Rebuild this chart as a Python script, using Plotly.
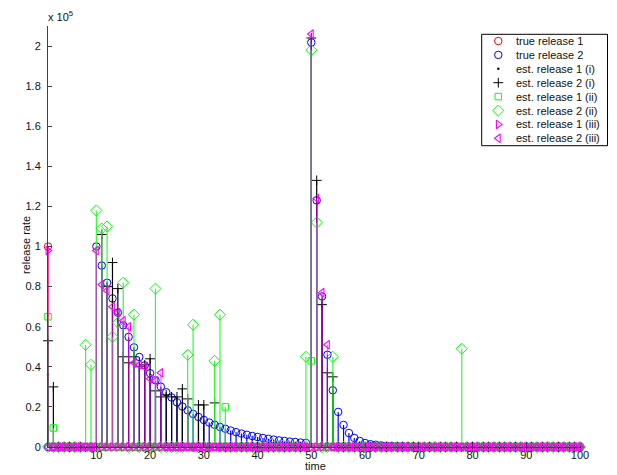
import plotly.graph_objects as go

# ---------------- data (values in units of 1e5) ----------------
SCALE = 1e5
time = list(range(1, 101))

true_rel1_t = [1]
true_rel1_v = [1.00]

true_rel2_t = list(range(10, 71))
true_rel2_v = [1.000, 0.905, 0.819, 0.741, 0.670, 0.607, 0.549, 0.497, 0.449, 0.407,
               0.368, 0.333, 0.301, 0.273, 0.247, 0.223, 0.202, 0.183, 0.165, 0.150,
               0.135, 0.122, 0.111, 0.100, 0.091, 0.082, 0.074, 0.067, 0.061, 0.055,
               0.050, 0.045, 0.041, 0.037, 0.033, 0.030, 0.027, 0.025, 0.022, 0.020,
               2.018, 1.230, 0.751, 0.460, 0.283, 0.175, 0.110, 0.070, 0.045, 0.030,
               0.020, 0.014, 0.011, 0.008, 0.006, 0.005, 0.004, 0.004, 0.003, 0.003, 0.0025]

est1_i_t = [1]
est1_i_v = [0.36]

est2_i_t = [1, 2, 11, 12, 13, 14, 15, 16, 17, 18, 19, 20, 21, 22, 23, 24, 25, 26, 27,
            29, 30, 32, 50, 51, 52, 53, 54]
est2_i_v = [0.53, 0.30, 1.06, 0.80, 0.92, 0.79, 0.45, 0.42, 0.45, 0.40, 0.41, 0.44, 0.28,
            0.25, 0.26, 0.25, 0.25, 0.29, 0.24, 0.21, 0.21, 0.22, 2.04, 1.33, 0.71, 0.37, 0.35]

est1_ii_t = [1, 2, 34, 50]
est1_ii_v = [0.65, 0.095, 0.20, 0.43]

est2_ii_t = [8, 9, 10, 11, 12, 13, 14, 15, 17, 21, 27, 28, 32, 33, 49, 50, 51, 54, 78]
est2_ii_v = [0.51, 0.41, 1.18, 1.09, 1.10, 0.55, 0.62, 0.82, 0.66, 0.79, 0.46, 0.61,
             0.43, 0.66, 0.45, 1.98, 1.12, 0.45, 0.49]

est1_iii_t = [1]
est1_iii_v = [0.98]

est2_iii_t = [10, 11, 12, 13, 14, 15, 16, 17, 18, 19, 20, 21, 22, 50, 51, 52, 53]
est2_iii_v = [0.98, 0.81, 0.78, 0.70, 0.67, 0.63, 0.60, 0.42, 0.41, 0.40, 0.34, 0.33,
              0.37, 2.06, 1.24, 0.77, 0.51]

y_tick_vals = [0, 0.2, 0.4, 0.6, 0.8, 1.0, 1.2, 1.4, 1.6, 1.8, 2.0]
y_tick_text = ["0", "0.2", "0.4", "0.6", "0.8", "1", "1.2", "1.4", "1.6", "1.8", "2"]
x_tick_vals = [10, 20, 30, 40, 50, 60, 70, 80, 90, 100]


def full(ts, vs):
    d = dict(zip(ts, vs))
    return [d.get(t, 0.0) * SCALE for t in time]


GREEN_STEM = "rgba(30,250,30,0.9)"
MAG_STEM = "rgba(255,0,255,0.62)"
series = [
    # name, t, v, symbol, size, marker colour, stem colour, marker line width
    ("true release 1", true_rel1_t, true_rel1_v, "circle-open", 7.5, "#ff0000", "#ff0000", 1),
    ("true release 2", true_rel2_t, true_rel2_v, "circle-open", 7.5, "#0000ff", "#0000ff", 1),
    ("est. release 1 (i)", est1_i_t, est1_i_v, "circle", 2.5, "#000000", "#000000", 0),
    ("est. release 2 (i)", est2_i_t, est2_i_v, "cross-thin-open", 7, "#000000", "#000000", 1),
    ("est. release 1 (ii)", est1_ii_t, est1_ii_v, "square-open", 6.5, "#00ff00", GREEN_STEM, 1),
    ("est. release 2 (ii)", est2_ii_t, est2_ii_v, "diamond-open", 8.5, "#00ff00", GREEN_STEM, 1),
    ("est. release 1 (iii)", est1_iii_t, est1_iii_v, "triangle-right-open", 7.5, "#ff00ff", MAG_STEM, 1.1),
    ("est. release 2 (iii)", est2_iii_t, est2_iii_v, "triangle-left-open", 7.5, "#ff00ff", MAG_STEM, 1.1),
]

# page geometry (body margin removed below, so figure starts at page origin)
FIG_W, FIG_H = 617, 475
plot_top, plot_bot, plot_l, plot_r = 26, 447, 48, 580
PW, PH = plot_r - plot_l, plot_bot - plot_top


def px(xpage):
    return (xpage - plot_l) / PW


def py(ypage):
    return (plot_bot - ypage) / PH


fig = go.Figure()

for name, ts, vs, sym, sz, mcol, scol, lw in series:
    yv = full(ts, vs)
    fig.add_trace(go.Scatter(
        x=time, y=yv, mode="markers", name=name, showlegend=False,
        cliponaxis=False,
        marker=dict(symbol=sym, size=sz, color=mcol,
                    line=dict(color=mcol, width=lw)),
        error_y=dict(type="data", symmetric=False, array=[0] * len(yv),
                     arrayminus=yv, width=0, thickness=1.2, color=scol),
    ))

# ---------------- compact legend (overlay axes) ----------------
row_px = [41 + 13.9 * i for i in range(len(series))]
for i, (name, ts, vs, sym, sz, mcol, scol, lw) in enumerate(series):
    yy = py(row_px[i])
    fig.add_trace(go.Scatter(
        x=[px(498.3)], y=[yy], mode="markers",
        xaxis="x2", yaxis="y2", showlegend=False, cliponaxis=False, hoverinfo="skip",
        marker=dict(symbol=sym, size=sz, color=mcol, line=dict(color=mcol, width=lw)),
    ))
    fig.add_annotation(
        x=px(514.3), y=yy, xref="paper", yref="paper",
        text=name, showarrow=False, xanchor="left", yanchor="middle",
        font=dict(size=11, color="#111111"),
    )

fig.add_shape(type="rect", xref="paper", yref="paper",
              x0=px(481.7), x1=px(607.5), y0=py(145.7), y1=py(34.3),
              line=dict(color="#000000", width=1), fillcolor="rgba(0,0,0,0)", layer="above")

# axis titles / exponent
fig.add_annotation(x=px(18), y=py(245), xref="paper", yref="paper", text="release rate",
                   textangle=-90, showarrow=False, font=dict(size=11, color="#111111"))
fig.add_annotation(x=px(315), y=py(474), xref="paper", yref="paper", text="time",
                   showarrow=False, yanchor="bottom", font=dict(size=11, color="#111111"))
fig.add_annotation(x=px(46), y=py(16), xref="paper", yref="paper", text="x 10<sup>5</sup>",
                   showarrow=False, xanchor="left", yanchor="middle",
                   font=dict(size=11, color="#111111"))

fig.update_layout(
    width=FIG_W, height=FIG_H,
    margin=dict(l=plot_l, r=FIG_W - plot_r, t=plot_top, b=FIG_H - plot_bot, autoexpand=False),
    paper_bgcolor="white", plot_bgcolor="rgba(0,0,0,0)",
    font=dict(family="Liberation Sans, Arial, sans-serif", size=11, color="#111111"),
    showlegend=False,
    xaxis=dict(range=[1, 100], tickvals=x_tick_vals, ticks="inside", ticklen=4,
               tickcolor="#404040", showline=True, linecolor="#404040", linewidth=1,
               showgrid=False, zeroline=False, automargin=False, ticklabelstandoff=-2),
    yaxis=dict(range=[0, 2.1 * SCALE], tickvals=[v * SCALE for v in y_tick_vals],
               ticktext=y_tick_text, ticks="inside", ticklen=4, tickcolor="#404040",
               showline=True, linecolor="#404040", linewidth=1, showgrid=False,
               zeroline=False, ticklabelstandoff=4, automargin=False),
    xaxis2=dict(overlaying="x", range=[0, 1], visible=False, anchor="y2"),
    yaxis2=dict(overlaying="y", range=[0, 1], visible=False, anchor="x2"),
)

fig.write_html("out.html", config={"displayModeBar": False},
               post_script="document.body.style.margin='0';document.body.style.overflow='hidden';")
